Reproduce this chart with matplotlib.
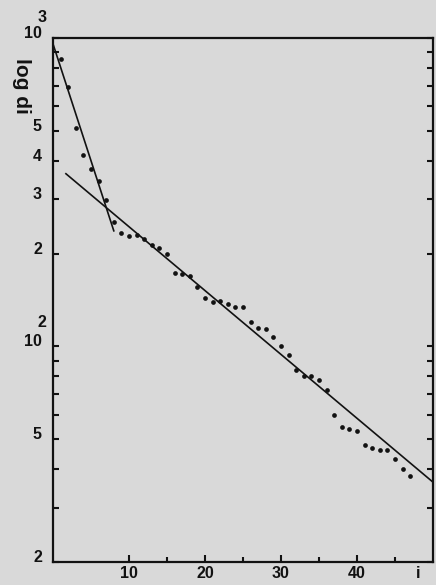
import matplotlib
matplotlib.use("Agg")
import matplotlib.pyplot as plt
import matplotlib.transforms as mtransforms
from matplotlib.ticker import FixedLocator, NullFormatter

# ---- data ----
i_vals = list(range(1, 48))
d_vals = [853, 696, 510, 418, 375, 345, 298, 254, 233, 228,
          229, 223, 214, 209, 200, 173, 172, 169, 156, 144,
          139, 140, 137, 134, 134, 120, 115, 114, 107, 100,
          94, 84, 80, 80, 78, 72, 60, 55, 54, 53,
          48, 47, 46, 46, 43, 40, 38]

steep_i = [0, 8.0]
steep_d = [957, 237]
shallow_i = [1.7, 50]
shallow_d = [363, 36.3]

y_major = [20, 50, 100, 200, 300, 400, 500, 1000]
y_major_labels = ["2", "5", "10", "2", "3", "4", "5", "10"]
y_minor = [30, 40, 60, 70, 80, 90, 600, 700, 800, 900]
x_major = [10, 20, 30, 40]
x_major_labels = ["10", "20", "30", "40"]
x_minor = [15, 25, 35, 45]

FONT = ["Liberation Sans", "DejaVu Sans"]
BG = "#d9d9d9"
INK = "#121212"
FS = 11.5

fig = plt.figure(figsize=(4.36, 5.85), dpi=100, facecolor=BG)
ax = fig.add_axes([53/436, 1-562/585, (433-53)/436, (562-38)/585])
ax.set_facecolor(BG)

ax.plot(i_vals, d_vals, linestyle="none", marker="o", markersize=3.4,
        color=INK, markeredgewidth=0)
ax.plot(steep_i, steep_d, color=INK, linewidth=1.2)
ax.plot(shallow_i, shallow_d, color=INK, linewidth=1.2)

ax.set_yscale("log")
ax.set_xlim(0, 50)
ax.set_ylim(20, 1000)

ax.yaxis.set_major_locator(FixedLocator(y_major))
ax.set_yticklabels(y_major_labels)
ax.yaxis.set_minor_locator(FixedLocator(y_minor))
ax.yaxis.set_minor_formatter(NullFormatter())
ax.xaxis.set_major_locator(FixedLocator(x_major))
ax.set_xticklabels(x_major_labels)
ax.xaxis.set_minor_locator(FixedLocator(x_minor))

ax.tick_params(axis="y", which="both", direction="in", length=4, width=1.5,
               color=INK, left=True, right=True, pad=8)
ax.tick_params(axis="x", which="major", direction="in", length=5, width=1.5,
               color=INK, top=False, pad=3)
ax.tick_params(axis="x", which="minor", direction="in", length=3.5, width=1.5,
               color=INK, top=False)

for lab in ax.get_yticklabels() + ax.get_xticklabels():
    lab.set_fontfamily(FONT)
    lab.set_fontweight("bold")
    lab.set_fontsize(FS)
    lab.set_color(INK)

# y tick labels sit slightly above their ticks in the original
off = mtransforms.ScaledTranslation(0, 6/100, fig.dpi_scale_trans)
for lab in ax.get_yticklabels():
    lab.set_transform(lab.get_transform() + off)

for sp in ax.spines.values():
    sp.set_linewidth(1.6)
    sp.set_color(INK)

# superscripts of the decade labels
for yv, s, dy in [(1000, "3", 20), (100, "2", 24)]:
    ax.annotate(s, xy=(0, yv), xycoords=("axes fraction", "data"),
                xytext=(-11, dy), textcoords="offset pixels",
                ha="center", va="center", fontsize=FS, fontweight="bold",
                family=FONT, color=INK, annotation_clip=False)

# x axis variable name
ax.annotate("i", xy=(48, 0), xycoords=("data", "axes fraction"),
            xytext=(0, -11), textcoords="offset pixels",
            ha="center", va="center", fontsize=FS, fontweight="bold",
            family=FONT, color=INK, annotation_clip=False)

# y axis variable name
fig.text(21/436, 1-86/585, "log di", rotation=270, ha="center", va="center",
         fontsize=15, fontweight="bold", family=FONT, color=INK)

fig.savefig("out.png", dpi=100, facecolor=BG)
